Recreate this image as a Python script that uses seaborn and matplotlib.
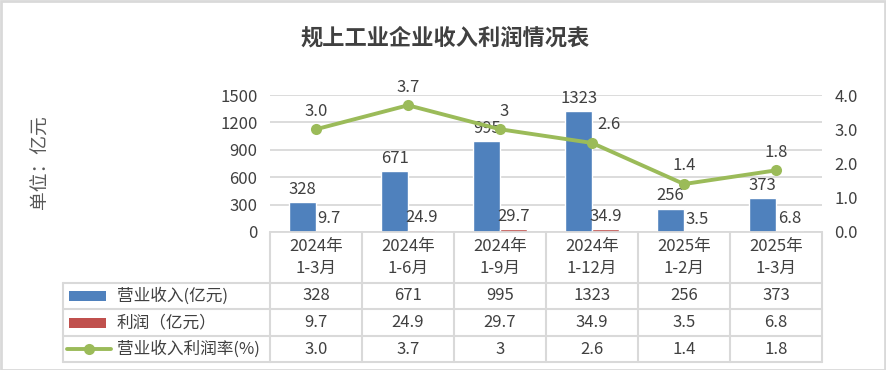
import numpy as np
import pandas as pd
import seaborn as sns
import matplotlib
matplotlib.use('Agg')
import matplotlib.pyplot as plt
from matplotlib.patches import Rectangle
from matplotlib.lines import Line2D

# 数据
years = ['2024年', '2024年', '2024年', '2024年', '2025年', '2025年']
months = ['1-3月', '1-6月', '1-9月', '1-12月', '1-2月', '1-3月']
revenue = [328, 671, 995, 1323, 256, 373]
profit = [9.7, 24.9, 29.7, 34.9, 3.5, 6.8]
rate = [3.0, 3.7, 3.0, 2.6, 1.4, 1.8]
rate_labels = ['3.0', '3.7', '3', '2.6', '1.4', '1.8']
series_names = ['营业收入(亿元)', '利润（亿元）', '营业收入利润率(%)']

BLUE = '#4F81BD'
RED = '#C0504D'
GREEN = '#9BBB59'
TXT = '#404040'
GRID = '#D9D9D9'
FS = 12

sns.set_theme(style='white')
plt.rcParams['font.family'] = ['Noto Sans CJK SC', 'DejaVu Sans']

periods = [y + m for y, m in zip(years, months)]
df = pd.DataFrame({
    'period': periods * 2,
    'value': revenue + profit,
    'series': [series_names[0]] * len(periods) + [series_names[1]] * len(periods),
})

W, H = 886, 370
fig = plt.figure(figsize=(W / 100, H / 100), dpi=100)
fig.patch.set_facecolor('white')

# 主图区域 (像素)
L, R, T, B = 270, 822, 95, 232
ax = fig.add_axes([L / W, 1 - B / H, (R - L) / W, (B - T) / H])

sns.barplot(data=df, x='period', y='value', hue='series', order=periods,
            palette={series_names[0]: BLUE, series_names[1]: RED},
            width=0.58, saturation=1, errorbar=None, legend=False, ax=ax)
ax.set_xlim(-0.5, len(periods) - 0.5)
ax.set_ylim(0, 1500)
ax.set_yticks(np.arange(0, 1501, 300))
ax.yaxis.grid(True, color=GRID, linewidth=1.3)
ax.set_axisbelow(True)
ax.set_xlabel('')
ax.set_ylabel('')
ax.set_xticks(range(len(periods)))
ax.set_xticklabels([])
ax.tick_params(axis='x', length=0)
ax.tick_params(axis='y', length=0, pad=9, labelsize=FS, labelcolor=TXT)
for s in ['left', 'right', 'top']:
    ax.spines[s].set_visible(False)
ax.spines['bottom'].set_color(GRID)
ax.spines['bottom'].set_linewidth(1.3)

ax.bar_label(ax.containers[0], labels=[str(v) for v in revenue],
             padding=3, fontsize=FS, color=TXT)
ax.bar_label(ax.containers[1], labels=[f'{v:.1f}' for v in profit],
             padding=3, fontsize=FS, color=TXT)

# 利润率折线 (次坐标轴)
ax2 = ax.twinx()
xs = np.arange(len(periods))
sns.lineplot(x=xs, y=rate, color=GREEN, linewidth=2.8, marker='o',
             markersize=8, markeredgewidth=0, ax=ax2)
ax2.set_ylim(0, 4)
ax2.set_yticks(np.arange(0, 4.01, 1))
ax2.set_yticklabels([f'{v:.1f}' for v in np.arange(0, 4.01, 1)])
ax2.tick_params(axis='y', length=0, pad=9, labelsize=FS, labelcolor=TXT)
for s in ['left', 'right', 'top', 'bottom']:
    ax2.spines[s].set_visible(False)
ax2.grid(False)
label_dx = [0, 0, 3, 12, 0, 0]
for i, (v, lab) in enumerate(zip(rate, rate_labels)):
    ax2.annotate(lab, (xs[i], v), xytext=(label_dx[i], 7), textcoords='offset points',
                 ha='center', va='bottom', fontsize=FS, color=TXT, clip_on=False)

# 数据表 (像素坐标层)
fig.canvas.draw()
tab = fig.add_axes([0, 0, 1, 1], facecolor='none')
tab.set_xlim(0, W)
tab.set_ylim(H, 0)
tab.axis('off')

def col_x(i):
    return ax.transData.transform((i, 0))[0]

step = col_x(1) - col_x(0)
edges = [col_x(i) - step / 2 for i in range(len(periods))] + [col_x(len(periods) - 1) + step / 2]
row_y = [B, 283, 309, 336, 362]
leg_left = 63
lc = dict(color=GRID, linewidth=1.5)

for x in edges:
    tab.plot([x, x], [row_y[0], row_y[-1]], **lc)
tab.plot([leg_left, leg_left], [row_y[1], row_y[-1]], **lc)
for y in row_y[1:]:
    tab.plot([leg_left, edges[-1]], [y, y], **lc)

for i in range(len(periods)):
    cx = col_x(i)
    tab.text(cx, 246, years[i], ha='center', va='center', fontsize=FS, color=TXT)
    tab.text(cx, 268, months[i], ha='center', va='center', fontsize=FS, color=TXT)

row_vals = [[str(v) for v in revenue], [f'{v:.1f}' for v in profit], rate_labels]
for r, vals in enumerate(row_vals):
    cy = (row_y[r + 1] + row_y[r + 2]) / 2
    for i, v in enumerate(vals):
        tab.text(col_x(i), cy, v, ha='center', va='center', fontsize=FS, color=TXT)
    tab.text(117, cy, series_names[r], ha='left', va='center', fontsize=FS, color=TXT)

# 图例符号
for r, c in enumerate([BLUE, RED]):
    cy = (row_y[r + 1] + row_y[r + 2]) / 2
    tab.add_patch(Rectangle((69, cy - 5), 37, 10, facecolor=c, edgecolor='none'))
cy = (row_y[3] + row_y[4]) / 2
tab.add_line(Line2D([67, 111], [cy, cy], color=GREEN, linewidth=2.8))
tab.plot([89], [cy], 'o', color=GREEN, markersize=8, markeredgewidth=0)

# 标题 / 单位
fig.text(445 / W, 1 - 38 / H, '规上工业企业收入利润情况表', ha='center', va='center',
         fontsize=16, fontweight='bold', color=TXT)
fig.text(40 / W, 1 - 162 / H, '单位：亿元', rotation=90, ha='center', va='center',
         fontsize=13.5, color='#595959')

# 外框
fig.add_artist(Rectangle((0.5 / W, 0.5 / H), (W - 1.5) / W, (H - 1.5) / H,
                         transform=fig.transFigure, fill=False, edgecolor=GRID, linewidth=2))

fig.savefig('out.png', dpi=100)
